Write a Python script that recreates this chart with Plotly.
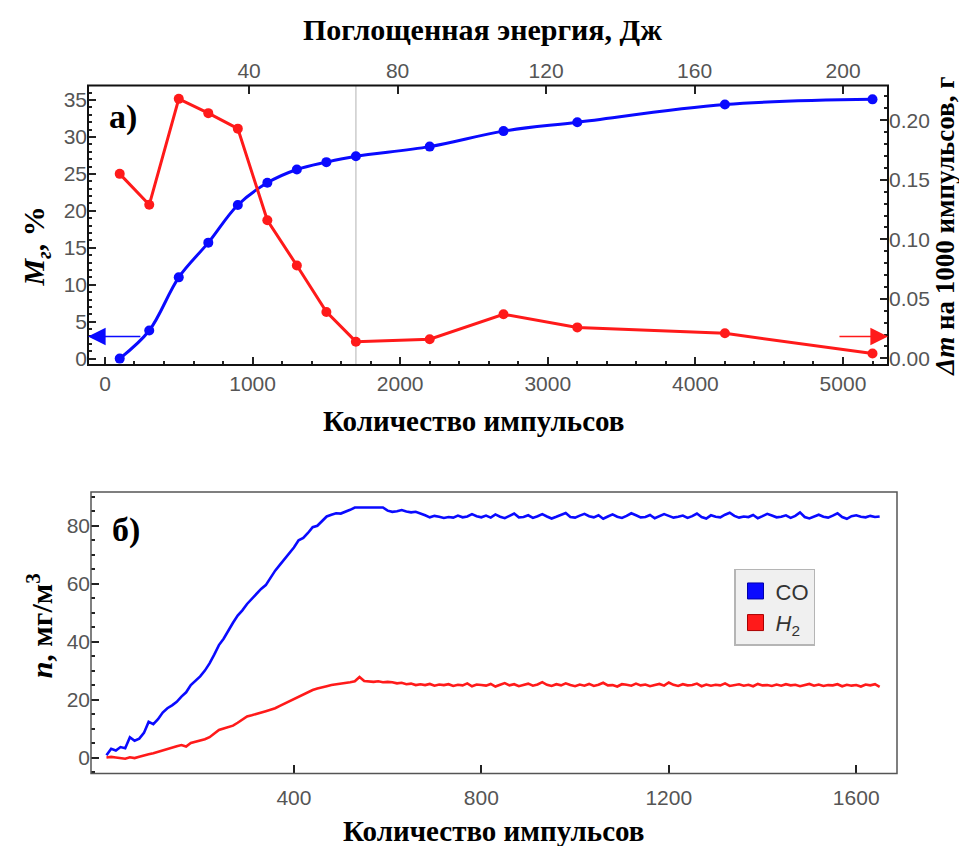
import plotly.graph_objects as go

# ---------------- Panel a) data ----------------
pulses_a = [100, 300, 500, 700, 900, 1100, 1300, 1500, 1700, 2200, 2700, 3200, 4200, 5200]
mg_percent = [0.0, 3.8, 11.0, 15.7, 20.8, 23.8, 25.6, 26.6, 27.4, 28.7, 30.8, 32.0, 34.4, 35.1]
dm_per_1000 = [0.155, 0.129, 0.218, 0.206, 0.193, 0.116, 0.078, 0.039, 0.014, 0.016,
               0.037, 0.026, 0.021, 0.004]
energy_ticks = [40, 80, 120, 160, 200]
marker_pulse = 1700

# ---------------- Panel б) data ----------------
pulses_b = list(range(0, 1660, 10))
co_values = [
    0.8, 3.0, 2.4, 3.6, 3.2, 7.0, 5.8, 6.5, 8.5, 12.3,
    11.5, 13.2, 15.5, 17.0, 18.0, 19.2, 21.0, 22.5, 25.0, 26.5,
    28.0, 30.0, 32.5, 35.5, 38.8, 41.0, 44.0, 46.5, 49.0, 50.8,
    53.0, 54.8, 56.5, 58.2, 59.5, 62.0, 64.5, 66.5, 68.5, 70.5,
    72.5, 75.0, 75.8, 77.5, 79.5, 80.0, 81.5, 83.2, 83.8, 84.3,
    84.2, 84.8, 85.5, 86.3, 86.3, 86.2, 86.3, 86.3, 86.2, 86.3,
    85.2, 84.8, 85.0, 85.4, 84.9, 84.6, 84.8, 84.3, 83.6, 82.9,
    83.4, 83.1, 82.7, 83.0, 82.8, 83.5, 82.9, 83.2, 84.0, 83.3,
    82.9,
    83.5, 82.8, 83.9, 83.1, 82.6, 83.4, 84.2, 82.9, 83.0, 83.6,
    82.7, 83.3, 84.0, 83.2, 82.5, 83.1, 83.8, 84.4, 83.0, 82.8,
    83.5, 84.1, 83.3, 82.9, 83.6, 82.4, 83.2, 83.9, 83.1, 82.7,
    83.4, 84.3, 83.6, 82.9, 83.0, 83.7, 82.6, 83.2, 84.0, 83.4,
    82.8, 83.1, 83.5, 82.7, 83.3, 84.2, 83.0, 82.5, 83.6, 83.1,
    82.9, 83.8, 84.5, 83.4, 82.8, 83.2, 83.0, 83.7, 82.6, 83.3,
    84.1, 83.5, 82.9, 83.1, 83.6, 82.7, 83.4, 84.6, 83.0, 82.5,
    83.2, 83.8, 83.1, 82.8, 83.5, 84.3, 83.0, 82.4, 83.3, 83.6,
    83.1, 82.9, 83.4, 83.0, 83.2,
]
h2_values = [
    0.0, 0.2, 0.0, -0.3, -0.4, 0.1, -0.2, 0.3, 0.6, 1.1,
    1.5, 2.0, 2.6, 3.1, 3.4, 3.9, 4.3, 3.8, 5.0, 5.4,
    5.8, 6.3, 7.0, 8.2, 9.5, 10.0, 10.5, 11.0, 12.0, 13.2,
    14.2, 14.6, 15.0, 15.5, 16.0, 16.5, 17.0, 17.8, 18.6, 19.3,
    20.2, 21.0, 21.8, 22.6, 23.3, 23.8, 24.3, 24.6, 25.0, 25.2,
    25.5, 25.8, 26.0, 26.3, 27.8, 26.4, 26.2, 26.1, 26.3, 26.0,
    26.1, 26.0, 25.6, 25.8, 25.3, 25.5, 25.0, 25.3, 25.0, 25.4,
    24.8, 25.2, 25.0,
    25.3, 24.7, 25.1, 24.9, 25.6, 24.6, 25.2, 25.0, 24.8, 25.4,
    24.5, 25.1, 25.7, 24.9, 25.3, 24.6, 25.0, 25.5, 24.8, 25.2,
    26.0, 25.1, 24.7, 25.3, 24.9, 25.6, 25.0, 24.6, 25.2, 24.8,
    25.4, 24.7, 25.1, 25.8, 24.9, 25.0, 24.5, 25.3, 25.1, 24.8,
    25.5, 24.9, 25.2, 24.6, 25.0, 25.4, 24.8, 25.9, 25.1, 24.7,
    25.3, 24.9, 25.0, 25.5, 24.6, 25.2, 24.8, 25.1, 24.9, 25.6,
    24.7, 25.0, 25.3, 24.8, 25.1, 24.6, 25.4, 24.9, 25.0, 24.7,
    25.2, 24.8, 25.3, 24.9, 25.1, 24.6, 25.0, 25.4, 24.8, 25.2,
    24.7, 25.0, 24.9, 25.3, 24.6, 25.1, 24.8, 25.0, 24.5, 25.2,
    24.9, 25.3, 24.4,
]
legend_names = ["CO", "<i>H</i><sub>2</sub>"]

BLUE = "#0a0aff"
RED = "#ff1a1a"
W, H = 967, 846
SERIF = "Liberation Serif, Times New Roman, serif"
SANS = "Liberation Sans, Arial, sans-serif"
tickfont = dict(family=SANS, size=21, color="#555555")

fig = go.Figure()

fig.add_trace(go.Scatter(x=pulses_a, y=mg_percent, mode="lines+markers",
                         line=dict(color=BLUE, width=3, shape="spline"),
                         marker=dict(size=10, color=BLUE),
                         xaxis="x", yaxis="y", showlegend=False, hoverinfo="skip"))
fig.add_trace(go.Scatter(x=pulses_a, y=dm_per_1000, mode="lines+markers",
                         line=dict(color=RED, width=3),
                         marker=dict(size=10, color=RED),
                         xaxis="x", yaxis="y2", showlegend=False, hoverinfo="skip"))
fig.add_trace(go.Scatter(x=energy_ticks, y=[None] * len(energy_ticks), mode="lines",
                         xaxis="x2", yaxis="y", showlegend=False, hoverinfo="skip"))

fig.add_trace(go.Scatter(x=pulses_b, y=co_values, mode="lines",
                         line=dict(color=BLUE, width=2.6),
                         xaxis="x3", yaxis="y3", showlegend=False, hoverinfo="skip"))
fig.add_trace(go.Scatter(x=pulses_b, y=h2_values, mode="lines",
                         line=dict(color=RED, width=2.6),
                         xaxis="x3", yaxis="y3", showlegend=False, hoverinfo="skip"))
for name, col, edge in zip(legend_names, [BLUE, RED], ["#0000aa", "#aa0000"]):
    fig.add_trace(go.Scatter(x=[None], y=[None], mode="markers", name=name,
                             marker=dict(symbol="square", size=19, color=col,
                                         line=dict(color=edge, width=1)),
                             xaxis="x3", yaxis="y3", showlegend=True))

tick_common = dict(ticks="inside", tickcolor="#222222", tickwidth=1.5, ticklen=8,
                   showgrid=False, zeroline=False, showline=False, tickfont=tickfont)

def px_x(p):
    return p / W

def px_y(p):
    return 1 - p / H

fig.update_layout(
    width=W, height=H, margin=dict(l=0, r=0, t=0, b=0),
    paper_bgcolor="white", plot_bgcolor="white",
    xaxis=dict(domain=[px_x(80), px_x(880)], anchor="y", range=[-115, 5305],
               tick0=0, dtick=1000,
               minor=dict(dtick=200, ticks="inside", ticklen=4, tickcolor="#222222"),
               ticklabelstandoff=4, **tick_common),
    xaxis2=dict(overlaying="x", side="top", anchor="y", range=[-3.4, 212.1],
                tickvals=energy_ticks, ticklabelstandoff=2, **tick_common),
    yaxis=dict(domain=[px_y(359), px_y(78)], anchor="x", range=[-0.85, 36.97],
               tick0=0, dtick=5,
               minor=dict(dtick=1, ticks="inside", ticklen=4, tickcolor="#222222"),
               **tick_common),
    yaxis2=dict(overlaying="y", side="right", anchor="x", range=[-0.0055, 0.2292],
                tick0=0, dtick=0.05, tickformat=".2f",
                minor=dict(dtick=0.01, ticks="inside", ticklen=4, tickcolor="#222222"),
                **tick_common),
    xaxis3=dict(domain=[px_x(83), px_x(889)], anchor="y3", range=[-33, 1687],
                tickvals=[400, 800, 1200, 1600], ticklabelstandoff=10, **tick_common),
    yaxis3=dict(domain=[px_y(770), px_y(487)], anchor="x3", range=[-5.5, 91.6],
                tick0=0, dtick=20,
                minor=dict(dtick=5, ticks="inside", ticklen=4, tickcolor="#222222"),
                **tick_common),
    legend=dict(x=px_x(726), y=px_y(564), xanchor="left", yanchor="top",
                bgcolor="#f0f0f0", bordercolor="#b5b5b5", borderwidth=1.5,
                font=dict(family=SANS, size=22, color="#333333"),
                itemwidth=30, tracegroupgap=2),
    shapes=[
        dict(type="line", xref="x", yref="y domain", x0=marker_pulse, x1=marker_pulse,
             y0=0, y1=1, line=dict(color="#cccccc", width=1.5), layer="below"),
        dict(type="rect", xref="x domain", yref="y domain", x0=0, x1=1, y0=0, y1=1,
             line=dict(color="#111111", width=2)),
        dict(type="rect", xref="x3 domain", yref="y3 domain", x0=0, x1=1, y0=0, y1=1,
             line=dict(color="#555555", width=1.5)),
    ],
)

ann = []
# arrows pointing to the axis each series belongs to
ann.append(dict(x=-115, y=3.0, xref="x", yref="y", ax=250, ay=3.0, axref="x", ayref="y",
                text="", showarrow=True, arrowhead=2, arrowsize=2.2, arrowwidth=1.6,
                arrowcolor=BLUE))
ann.append(dict(x=5305, y=0.0184, xref="x", yref="y2", ax=4966, ay=0.0184, axref="x",
                ayref="y2", text="", showarrow=True, arrowhead=2, arrowsize=2.2,
                arrowwidth=1.6, arrowcolor=RED))

def txt(text, x, y, size, angle=0, family=SERIF, color="black"):
    return dict(text=text, x=px_x(x), y=px_y(y), xref="paper", yref="paper",
                showarrow=False, textangle=angle, xanchor="center", yanchor="middle",
                font=dict(family=family, size=size, color=color))

ann.append(txt("<b>Поглощенная энергия, Дж</b>", 474, 22, 30))
ann.append(txt("<b>Количество импульсов</b>", 465, 415, 29))
ann.append(txt("<b>Количество импульсов</b>", 485, 828, 29))
ann.append(txt("<b><i>M<sub>г</sub></i>, %</b>", 28, 240, 30, angle=-90))
ann.append(txt("<b><i>Δm</i> на 1000 импульсов, г</b>", 937, 220, 27, angle=-90))
ann.append(txt("<b><i>n</i>, мг/м<sup>3</sup></b>", 32, 622, 30, angle=-90))
ann.append(txt("<b>а)</b>", 115, 110, 34))
ann.append(txt("<b>б)</b>", 118, 525, 34))
fig.update_layout(annotations=ann)

fig.write_html("out.html")
